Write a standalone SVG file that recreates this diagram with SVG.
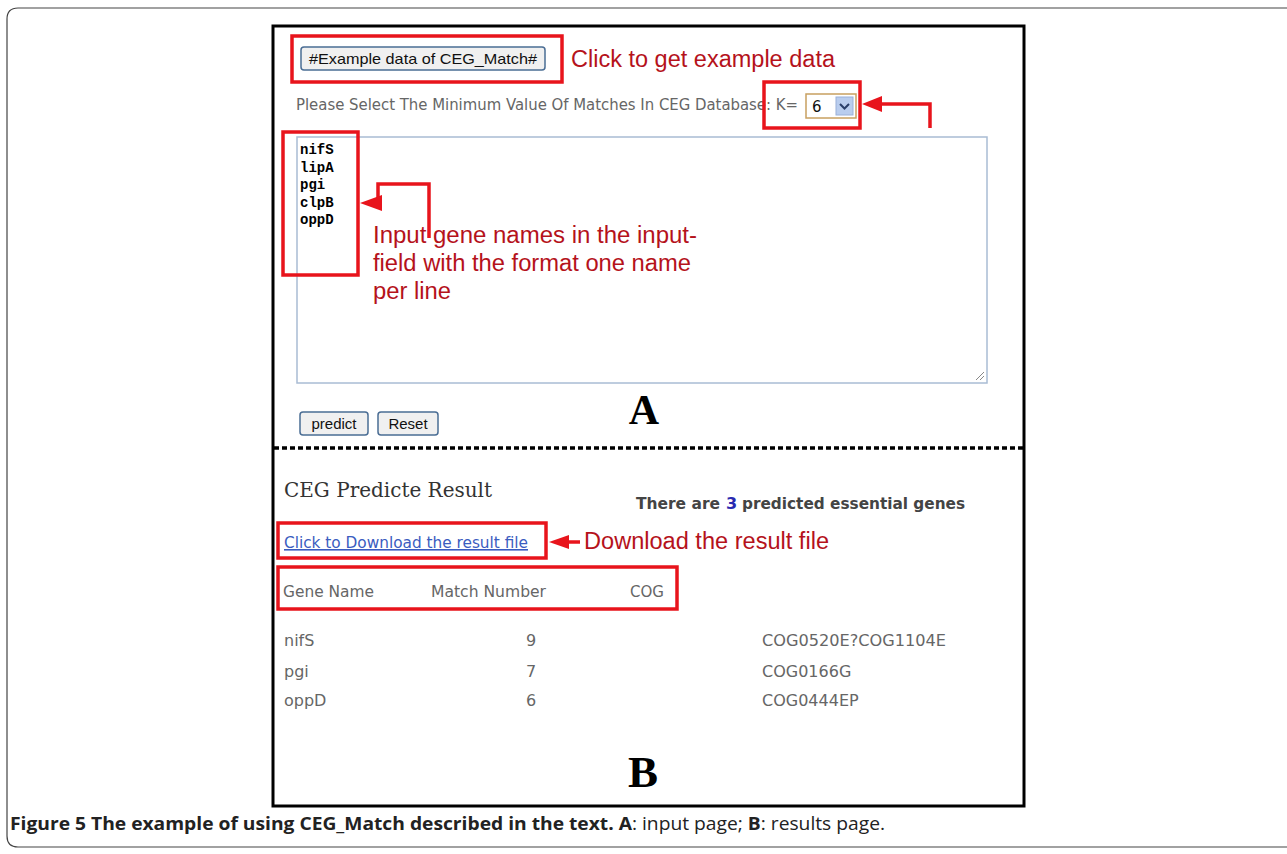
<svg xmlns="http://www.w3.org/2000/svg" width="1287" height="854" viewBox="0 0 1287 854">
<defs>
<style>
.hl{fill:none;stroke:#e8141c;stroke-width:3.5}
.ann{font-family:"Liberation Sans",Arial,sans-serif;font-size:23px;fill:#b5121b}
.ui{font-family:"DejaVu Sans",Verdana,sans-serif;fill:#666}
.btn{fill:#f0f0f0;stroke:#4a6d94;stroke-width:1.5}
.btnt{font-family:"Liberation Sans",Arial,sans-serif;font-size:15px;fill:#111}
.mono{font-family:"Liberation Mono","Courier New",monospace;font-size:14px;fill:#000;font-weight:bold}
.big{font-family:"Liberation Serif","Times New Roman",serif;font-weight:bold;fill:#000;text-anchor:middle}
.tbl{font-family:"DejaVu Sans",Tahoma,sans-serif;font-size:16px;fill:#666}
.cnt{font-family:"DejaVu Sans",Tahoma,sans-serif;font-weight:bold;font-size:16px;fill:#444}
.cap{font-family:"Open Sans","DejaVu Sans",sans-serif;font-size:18px;fill:#222}
.conn{fill:none;stroke:#e8141c;stroke-width:3.5}
.head{fill:#e8141c}
</style>
</defs>
<rect width="1287" height="854" fill="#fff"/>
<path d="M1290,8 H18 Q7,8 7,19 V836 Q7,847 18,847 H1290" fill="none" stroke="#444" stroke-width="1.2"/>
<rect x="273" y="26" width="751" height="780" fill="#fff" stroke="#000" stroke-width="3"/>

<g id="example-button">
<rect class="btn" x="301" y="47" width="244" height="23" rx="3"/>
<text class="btnt" x="309" y="64" textLength="228" lengthAdjust="spacingAndGlyphs">#Example data of CEG_Match#</text>
<rect class="hl" x="292" y="36" width="270" height="46"/>
</g>
<g id="example-label"><text class="ann" x="571" y="67" textLength="264" lengthAdjust="spacingAndGlyphs">Click to get example data</text></g>

<g id="k-prompt"><text class="ui" x="296" y="110" font-size="15" textLength="502" lengthAdjust="spacingAndGlyphs">Please Select The Minimum Value Of Matches In CEG Database: K=</text></g>
<g id="k-select">
<rect x="806" y="94" width="50" height="24" fill="#fff" stroke="#c8a060" stroke-width="1.5"/>
<text x="812" y="112" font-family="'DejaVu Sans',sans-serif" font-size="15" fill="#111">6</text>
<rect x="836" y="97" width="17" height="18" fill="#b9cdee" stroke="#9ab0d8"/>
<path d="M840,104 L844.5,108.5 L849,104" fill="none" stroke="#2a3f6a" stroke-width="2"/>
<rect class="hl" x="764" y="82" width="96" height="46"/>
</g>
<g id="k-label">
<text class="ann" x="739" y="162" textLength="197" lengthAdjust="spacingAndGlyphs">Choses the cluster</text>
<text class="ann" x="739" y="190" textLength="204" lengthAdjust="spacingAndGlyphs">size with 6 (a gene</text>
<text class="ann" x="739" y="218" textLength="208" lengthAdjust="spacingAndGlyphs">shared by 6 strains)</text>
</g>

<g id="textarea">
<rect x="297" y="137" width="690" height="246" fill="#fff" stroke="#a9bcd4" stroke-width="1.5"/>
<path d="M976,380 L984,372 M980,380 L984,376" stroke="#888" stroke-width="1"/>
</g>
<g id="gene-list">
<text class="mono" x="300" y="154">nifS</text>
<text class="mono" x="300" y="172">lipA</text>
<text class="mono" x="300" y="189">pgi</text>
<text class="mono" x="300" y="207">clpB</text>
<text class="mono" x="300" y="224">oppD</text>
<rect class="hl" x="283" y="132" width="75" height="143"/>
</g>
<g id="input-label">
<text class="ann" x="373" y="243" textLength="324" lengthAdjust="spacingAndGlyphs">Input gene names in the input-</text>
<text class="ann" x="373" y="271" textLength="318" lengthAdjust="spacingAndGlyphs">field with the format one name</text>
<text class="ann" x="373" y="299" textLength="78" lengthAdjust="spacingAndGlyphs">per line</text>
</g>

<g id="predict-buttons">
<rect class="btn" x="300" y="412" width="68" height="23" rx="3"/>
<text class="btnt" x="334" y="429" text-anchor="middle">predict</text>
<rect class="btn" x="378" y="412" width="60" height="23" rx="3"/>
<text class="btnt" x="408" y="429" text-anchor="middle">Reset</text>
</g>
<g id="label-A"><text class="big" x="644" y="424" font-size="42">A</text></g>

<line x1="274" y1="448" x2="1023" y2="448" stroke="#000" stroke-width="3.5" stroke-dasharray="5,3"/>

<g id="result-title"><text x="284" y="497" font-family="'DejaVu Serif',Georgia,serif" font-size="21" fill="#333" textLength="208" lengthAdjust="spacingAndGlyphs">CEG Predicte Result</text></g>
<g id="result-count">
<text class="cnt" x="636" y="509" textLength="84" lengthAdjust="spacingAndGlyphs">There are</text>
<text class="cnt" x="726" y="509" fill="#2a2ab0" style="fill:#2a2ab0">3</text>
<text class="cnt" x="742" y="509" textLength="223" lengthAdjust="spacingAndGlyphs">predicted essential genes</text>
</g>

<g id="download-link">
<text x="284" y="548" font-family="'DejaVu Sans',Tahoma,sans-serif" font-size="16" fill="#3a5cc0" text-decoration="underline" textLength="244" lengthAdjust="spacingAndGlyphs">Click to Download the result file</text>
<rect class="hl" x="278" y="523" width="268" height="35"/>
</g>
<g id="download-label"><text class="ann" x="584" y="549" textLength="245" lengthAdjust="spacingAndGlyphs">Download the result file</text></g>

<g id="table-header">
<text class="tbl" x="283" y="597" textLength="91" lengthAdjust="spacingAndGlyphs">Gene Name</text>
<text class="tbl" x="431" y="597" textLength="115" lengthAdjust="spacingAndGlyphs">Match Number</text>
<text class="tbl" x="630" y="597" textLength="34" lengthAdjust="spacingAndGlyphs">COG</text>
<rect class="hl" x="278" y="567" width="399" height="42"/>
</g>
<g id="table-rows">
<text class="tbl" x="284" y="646">nifS</text>
<text class="tbl" x="526" y="646">9</text>
<text class="tbl" x="762" y="646" textLength="184" lengthAdjust="spacingAndGlyphs">COG0520E?COG1104E</text>
<text class="tbl" x="284" y="677">pgi</text>
<text class="tbl" x="526" y="677">7</text>
<text class="tbl" x="762" y="677">COG0166G</text>
<text class="tbl" x="284" y="706">oppD</text>
<text class="tbl" x="526" y="706">6</text>
<text class="tbl" x="762" y="706">COG0444EP</text>
</g>
<g id="label-B"><text class="big" x="643" y="787" font-size="45">B</text></g>

<g id="connectors">
<path class="conn" d="M930,128 V104 H878"/>
<polygon class="head" points="862,104 882,96 882,112"/>
<path class="conn" d="M429,238 V184 H378 V203 H378"/>
<polygon class="head" points="360,203 382,195 382,211"/>
<path class="conn" d="M580,542 H565"/>
<polygon class="head" points="549,542 569,535 569,549"/>
</g>

<g id="caption"><text class="cap" x="10" y="830" textLength="875" lengthAdjust="spacingAndGlyphs"><tspan font-weight="bold">Figure 5 The example of using CEG_Match described in the text. A</tspan>: input page; <tspan font-weight="bold">B</tspan>: results page.</text></g>
</svg>
